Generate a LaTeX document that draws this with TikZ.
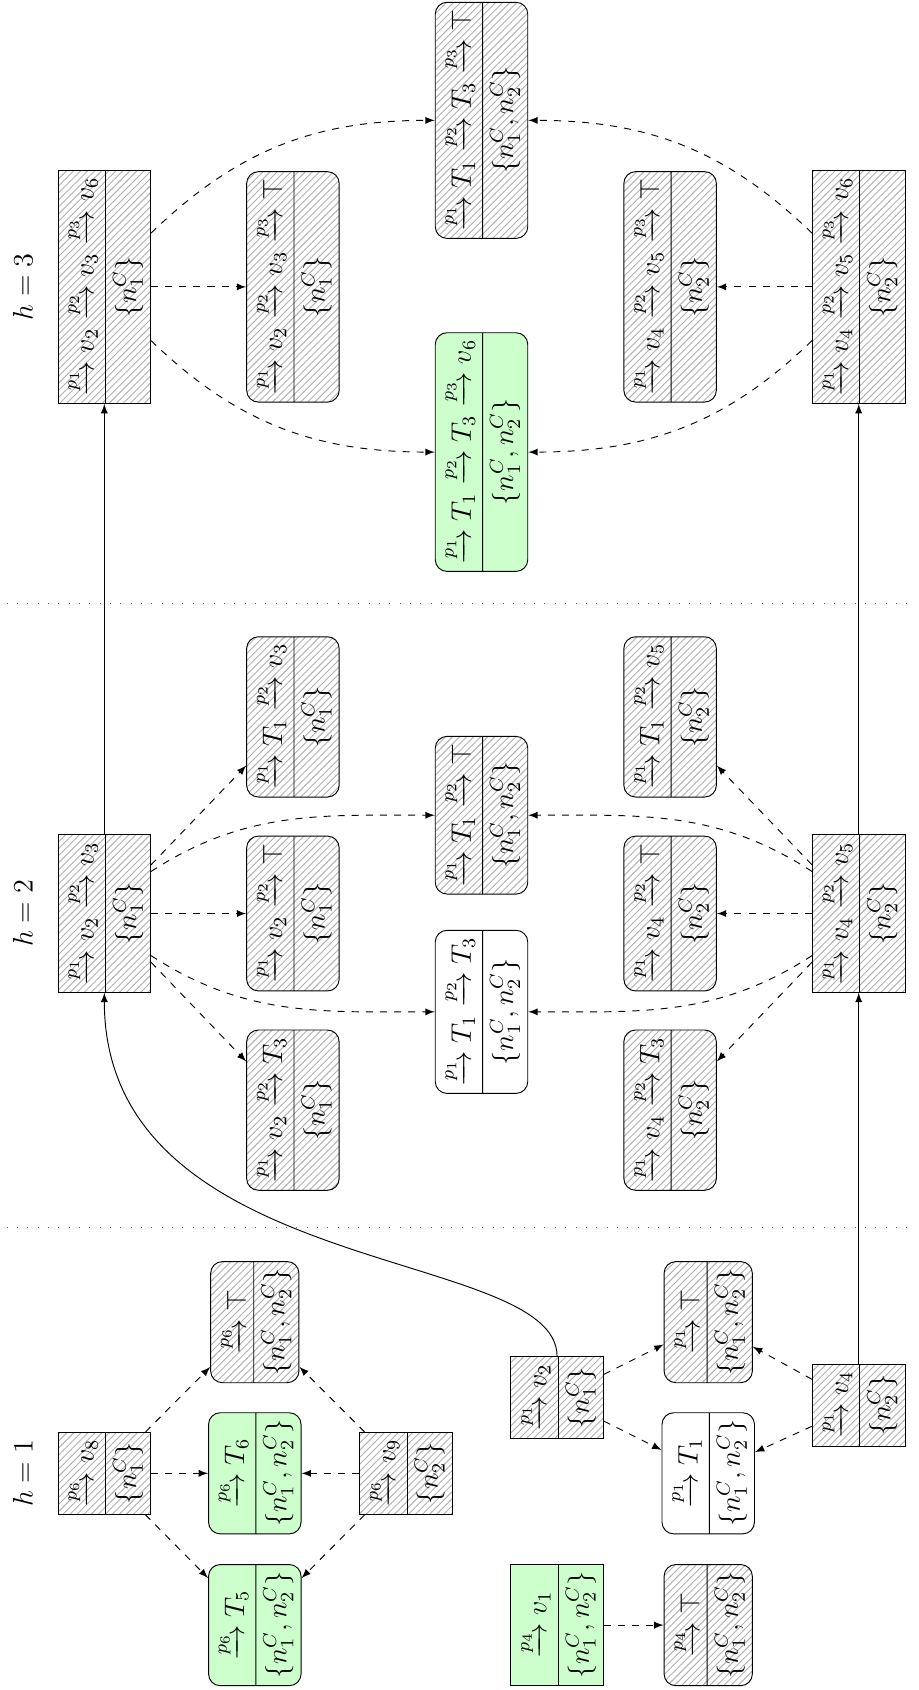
\documentclass[12pt,tikz,border=0pt]{standalone}
\usepackage{amsmath,amssymb}
\usepackage{tikz}
\usetikzlibrary{shapes.multipart,patterns}

\begin{document}
\begin{tikzpicture}[rotate=90, transform shape,
    conf/.style={rectangle split, rectangle split parts=2, draw, inner sep=3pt},
    derived/.style={conf, rounded corners=5pt},
    hatched/.style={pattern=north east lines, pattern color=gray!60},
    goal/.style={fill=green!20},
    trans/.style={dashed, -latex},
    lift/.style={-latex}]
    \useasboundingbox (0,0) rectangle (25.27,13.73);

    % Level separators
    \draw[loosely dotted, black!60] (16.24,13.63) -- (16.24,0.05);
    \draw[loosely dotted, black!60] (6.91,13.63) -- (6.91,0.05);

    % Level h = 1
    \begin{scope}
        \node (h1) at (3.24,13.39) {$h=1$};

        \node[conf, hatched] (A1) at (3.24,12.17) {$\xrightarrow{p_6} v_8$ \nodepart{two} $\{n_1^C\}$};
        \node[conf, hatched] (D1) at (3.24,7.66) {$\xrightarrow{p_6} v_9$ \nodepart{two} $\{n_2^C\}$};
        \node[derived, hatched] (AD1top) at (5.50,9.92) {$\xrightarrow{p_6} \top$ \nodepart{two} $\{n_1^C, n_2^C\}$};
        \node[derived, goal] (AD1six) at (3.24,9.92) {$\xrightarrow{p_6} T_6$ \nodepart{two} $\{n_1^C, n_2^C\}$};
        \node[derived, goal] (AD1five) at (0.97,9.92) {$\xrightarrow{p_6} T_5$ \nodepart{two} $\{n_1^C, n_2^C\}$};

        \node[conf, hatched] (C1) at (4.37,5.40) {$\xrightarrow{p_1} v_2$ \nodepart{two} $\{n_1^C\}$};
        \node[conf, hatched] (B1) at (4.26,0.89) {$\xrightarrow{p_1} v_4$ \nodepart{two} $\{n_2^C\}$};
        \node[derived, hatched] (CB1top) at (5.50,3.14) {$\xrightarrow{p_1} \top$ \nodepart{two} $\{n_1^C, n_2^C\}$};
        \node[derived] (CB1) at (3.24,3.14) {$\xrightarrow{p_1} T_1$ \nodepart{two} $\{n_1^C, n_2^C\}$};

        \node[conf, goal] (G1) at (0.97,5.40) {$\xrightarrow{p_4} v_1$ \nodepart{two} $\{n_1^C, n_2^C\}$};
        \node[derived, hatched] (G1top) at (0.97,3.14) {$\xrightarrow{p_4} \top$ \nodepart{two} $\{n_1^C, n_2^C\}$};

        \foreach \src in {A1, D1}
            \foreach \dst in {AD1top, AD1six, AD1five}
                \draw[trans] (\src) -- (\dst);
        \foreach \src in {C1, B1}
            \foreach \dst in {CB1top, CB1}
                \draw[trans] (\src) -- (\dst);
        \draw[trans] (G1) -- (G1top);
    \end{scope}

    % Level h = 2
    \begin{scope}
        \node (h2) at (11.61,13.39) {$h=2$};

        \node[conf, hatched] (A2) at (11.61,12.17) {$\xrightarrow{p_1} v_2 \xrightarrow{p_2} v_3$ \nodepart{two} $\{n_1^C\}$};
        \node[derived, hatched] (A2t) at (14.55,9.35) {$\xrightarrow{p_1} T_1 \xrightarrow{p_2} v_3$ \nodepart{two} $\{n_1^C\}$};
        \node[derived, hatched] (A2top) at (11.61,9.35) {$\xrightarrow{p_1} v_2 \xrightarrow{p_2} \top$ \nodepart{two} $\{n_1^C\}$};
        \node[derived, hatched] (A2T) at (8.67,9.35) {$\xrightarrow{p_1} v_2 \xrightarrow{p_2} T_3$ \nodepart{two} $\{n_1^C\}$};

        \node[derived, hatched] (AB2top) at (13.08,6.53) {$\xrightarrow{p_1} T_1 \xrightarrow{p_2} \top$ \nodepart{two} $\{n_1^C, n_2^C\}$};
        \node[derived] (AB2) at (10.14,6.53) {$\xrightarrow{p_1} T_1 \xrightarrow{p_2} T_3$ \nodepart{two} $\{n_1^C, n_2^C\}$};

        \node[derived, hatched] (B2t) at (14.55,3.71) {$\xrightarrow{p_1} T_1 \xrightarrow{p_2} v_5$ \nodepart{two} $\{n_2^C\}$};
        \node[derived, hatched] (B2top) at (11.61,3.71) {$\xrightarrow{p_1} v_4 \xrightarrow{p_2} \top$ \nodepart{two} $\{n_2^C\}$};
        \node[derived, hatched] (B2T) at (8.67,3.71) {$\xrightarrow{p_1} v_4 \xrightarrow{p_2} T_3$ \nodepart{two} $\{n_2^C\}$};
        \node[conf, hatched] (B2) at (11.61,0.89) {$\xrightarrow{p_1} v_4 \xrightarrow{p_2} v_5$ \nodepart{two} $\{n_2^C\}$};

        \foreach \dst in {A2t, A2top, A2T}
            \draw[trans] (A2) -- (\dst);
        \foreach \dst in {B2t, B2top, B2T}
            \draw[trans] (B2) -- (\dst);
        \draw[trans] (A2.-48) to[out=-57, in=90] (AB2top);
        \draw[trans] (A2.-132) to[out=-123, in=90] (AB2);
        \draw[trans] (B2.48) to[out=57, in=-90] (AB2top);
        \draw[trans] (B2.132) to[out=123, in=-90] (AB2);
    \end{scope}

    % Level h = 3
    \begin{scope}
        \node (h3) at (20.98,13.39) {$h=3$};

        \node[conf, hatched] (A3) at (20.98,12.17) {$\xrightarrow{p_1} v_2 \xrightarrow{p_2} v_3 \xrightarrow{p_3} v_6$ \nodepart{two} $\{n_1^C\}$};
        \node[derived, hatched] (A3top) at (20.98,9.35) {$\xrightarrow{p_1} v_2 \xrightarrow{p_2} v_3 \xrightarrow{p_3} \top$ \nodepart{two} $\{n_1^C\}$};
        \node[derived, hatched] (AB3top) at (23.47,6.53) {$\xrightarrow{p_1} T_1 \xrightarrow{p_2} T_3 \xrightarrow{p_3} \top$ \nodepart{two} $\{n_1^C, n_2^C\}$};
        \node[derived, goal] (AB3) at (18.51,6.53) {$\xrightarrow{p_1} T_1 \xrightarrow{p_2} T_3 \xrightarrow{p_3} v_6$ \nodepart{two} $\{n_1^C, n_2^C\}$};
        \node[derived, hatched] (B3top) at (20.98,3.71) {$\xrightarrow{p_1} v_4 \xrightarrow{p_2} v_5 \xrightarrow{p_3} \top$ \nodepart{two} $\{n_2^C\}$};
        \node[conf, hatched] (B3) at (20.98,0.89) {$\xrightarrow{p_1} v_4 \xrightarrow{p_2} v_5 \xrightarrow{p_3} v_6$ \nodepart{two} $\{n_2^C\}$};

        \draw[trans] (A3) -- (A3top);
        \draw[trans] (B3) -- (B3top);
        \draw[trans] (A3.-41) to[out=-46, in=90] (AB3top);
        \draw[trans] (A3.-139) to[out=-134, in=90] (AB3);
        \draw[trans] (B3.41) to[out=46, in=-90] (AB3top);
        \draw[trans] (B3.139) to[out=134, in=-90] (AB3);
    \end{scope}

    % Lifting between levels
    \draw[lift] (C1.east) to[out=0, in=180, out distance=1.65cm, in distance=4.3cm] (A2.west);
    \draw[lift] (B1) -- (B2);
    \draw[lift] (A2) -- (A3);
    \draw[lift] (B2) -- (B3);
\end{tikzpicture}
\end{document}
